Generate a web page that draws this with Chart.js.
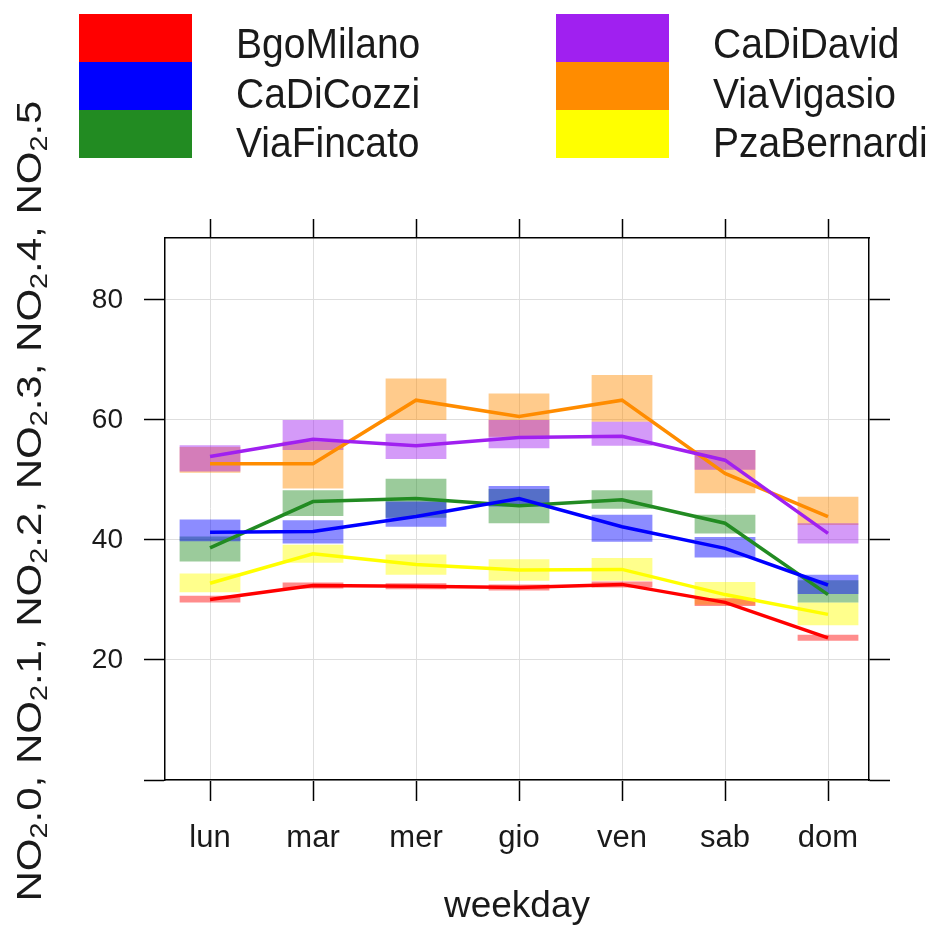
<!DOCTYPE html>
<html>
<head>
<meta charset="utf-8">
<title>NO2 per giorno della settimana</title>
<script src="https://cdn.jsdelivr.net/npm/chart.js@4.4.1/dist/chart.umd.min.js"></script>
<style>
  html, body { margin: 0; padding: 0; background: #fff; }
  #box { width: 946px; height: 929px; }
</style>
</head>
<body>
<div id="box"><canvas id="grafico-no2"></canvas></div>
<script>
const giorni = ['lun', 'mar', 'mer', 'gio', 'ven', 'sab', 'dom'];
const tickY = [0, 20, 40, 60, 80];

const stazioni = ['BgoMilano', 'CaDiCozzi', 'ViaFincato', 'CaDiDavid', 'ViaVigasio', 'PzaBernardi'];
const colori = ['#ff0000', '#0000ff', '#228b22', '#a020f0', '#ff8c00', '#ffff00'];

// media giornaliera e intervallo (inf/sup), lun..dom
const mediaBgoMilano = [30.1, 32.4, 32.3, 32.1, 32.6, 29.6, 23.7];
const infBgoMilano   = [29.6, 31.9, 31.8, 31.6, 32.1, 29.0, 23.2];
const supBgoMilano   = [30.7, 32.9, 32.8, 32.6, 33.1, 30.3, 24.2];

const mediaCaDiCozzi = [41.3, 41.4, 43.9, 46.9, 42.2, 38.6, 32.5];
const infCaDiCozzi   = [39.8, 39.4, 42.2, 45.6, 39.7, 37.1, 31.0];
const supCaDiCozzi   = [43.4, 43.3, 46.4, 49.0, 44.2, 40.5, 34.2];

const mediaViaFincato = [38.7, 46.4, 46.9, 45.7, 46.7, 42.8, 30.9];
const infViaFincato   = [36.4, 44.0, 43.7, 42.8, 45.2, 41.1, 29.6];
const supViaFincato   = [40.6, 48.3, 50.2, 48.5, 48.3, 44.2, 33.3];

const mediaCaDiDavid = [53.9, 56.8, 55.7, 57.1, 57.3, 53.3, 41.1];
const infCaDiDavid   = [51.4, 55.0, 53.5, 55.3, 55.7, 51.7, 39.4];
const supCaDiDavid   = [55.8, 60.0, 57.7, 60.0, 59.7, 55.0, 42.8];

const mediaViaVigasio = [52.7, 52.7, 63.3, 60.6, 63.3, 51.1, 43.9];
const infViaVigasio   = [51.2, 48.6, 60.0, 57.2, 59.7, 47.8, 42.5];
const supViaVigasio   = [55.5, 56.4, 66.9, 64.4, 67.5, 55.0, 47.2];

const mediaPzaBernardi = [32.8, 37.7, 35.9, 35.0, 35.1, 30.9, 27.6];
const infPzaBernardi   = [31.3, 36.2, 34.2, 33.2, 33.2, 29.2, 25.8];
const supPzaBernardi   = [34.4, 39.2, 37.6, 36.8, 37.0, 33.0, 29.6];

const medie = [mediaBgoMilano, mediaCaDiCozzi, mediaViaFincato, mediaCaDiDavid, mediaViaVigasio, mediaPzaBernardi];
const inferiori = [infBgoMilano, infCaDiCozzi, infViaFincato, infCaDiDavid, infViaVigasio, infPzaBernardi];
const superiori = [supBgoMilano, supCaDiCozzi, supViaFincato, supCaDiDavid, supViaVigasio, supPzaBernardi];

const font = '"Liberation Sans", Arial, sans-serif';

function trasparente(hex, a) {
  const n = parseInt(hex.slice(1), 16);
  return `rgba(${n >> 16}, ${(n >> 8) & 255}, ${n & 255}, ${a})`;
}

const datasets = [];
stazioni.forEach((nome, s) => {
  // rettangolo dell'intervallo
  datasets.push({
    type: 'bar',
    label: nome + ' int',
    data: giorni.map((g, i) => ({ x: i, y: [inferiori[s][i], superiori[s][i]] })),
    backgroundColor: trasparente(colori[s], 0.45),
    borderWidth: 0,
    grouped: false,
    categoryPercentage: 1,
    barPercentage: 0.59,
    order: 2
  });
  // linea della media
  datasets.push({
    type: 'line',
    label: nome,
    data: giorni.map((g, i) => ({ x: i, y: medie[s][i] })),
    borderColor: colori[s],
    borderWidth: 3.5,
    pointRadius: 0,
    tension: 0,
    fill: false,
    order: 1
  });
});

const tickGiorni = s => { s.ticks = giorni.map((g, i) => ({ value: i })); };
const tickValori = s => { s.ticks = tickY.map(v => ({ value: v })); };

// titolo asse y con i pedici
const titoloY = {
  id: 'titoloY',
  afterDraw(chart) {
    const ctx = chart.ctx;
    const pezzi = [];
    for (let k = 0; k <= 5; k++) {
      pezzi.push(['NO', false], ['2', true], ['.' + k, false]);
      if (k < 5) pezzi.push([', ', false]);
    }
    const fN = '35px ' + font, fS = '24px ' + font;
    let w = 0;
    pezzi.forEach(p => { ctx.font = p[1] ? fS : fN; w += ctx.measureText(p[0]).width; });
    ctx.save();
    ctx.translate(41, 501);
    ctx.rotate(-Math.PI / 2);
    ctx.scale(1.2, 1);
    ctx.fillStyle = '#1a1a1a';
    ctx.textBaseline = 'alphabetic';
    let x = -w / 2;
    pezzi.forEach(p => {
      ctx.font = p[1] ? fS : fN;
      ctx.fillText(p[0], x, p[1] ? 6 : 0);
      x += ctx.measureText(p[0]).width;
    });
    ctx.restore();
  }
};

// legenda su due colonne
const legenda = {
  id: 'legenda',
  afterDraw(chart) {
    const ctx = chart.ctx;
    ctx.save();
    stazioni.forEach((nome, i) => {
      const col = Math.floor(i / 3), riga = i % 3;
      const bx = col ? 556 : 79;
      ctx.fillStyle = colori[i];
      ctx.fillRect(bx, 14 + riga * 48, 113, 48);
      ctx.save();
      ctx.translate(bx + 157, 58 + riga * 49.5);
      ctx.scale(1, 1.1);
      ctx.fillStyle = '#1a1a1a';
      ctx.font = '39px ' + font;
      ctx.textBaseline = 'alphabetic';
      ctx.fillText(nome, 0, 0);
      ctx.restore();
    });
    ctx.restore();
  }
};

const bordo = { color: '#000', width: 1.5 };
const griglia = { color: '#dedede', lineWidth: 1, tickColor: '#000', tickWidth: 1.5, tickLength: 21, offset: false };

new Chart(document.getElementById('grafico-no2'), {
  type: 'line',
  data: { datasets },
  options: {
    responsive: true,
    maintainAspectRatio: false,
    animation: false,
    devicePixelRatio: 1,
    layout: { padding: 0 },
    plugins: { legend: { display: false }, tooltip: { enabled: false } },
    scales: {
      x: {
        type: 'linear', position: 'bottom', min: -0.437, max: 6.398, offset: false,
        afterBuildTicks: tickGiorni,
        ticks: { callback: v => giorni[v], font: { size: 31, family: font }, color: '#1a1a1a', padding: 19, autoSkip: false, maxRotation: 0 },
        grid: griglia,
        border: bordo,
        title: { display: true, text: 'weekday', font: { size: 37, family: font }, color: '#1a1a1a', padding: 0 },
        afterFit: s => { s.height = 149; }
      },
      y: {
        type: 'linear', position: 'left', min: 0, max: 90.33,
        afterBuildTicks: tickValori,
        ticks: { callback: v => v === 0 ? '' : v, font: { size: 28, family: font }, color: '#1a1a1a', padding: 21 },
        grid: griglia,
        border: bordo,
        afterFit: s => { s.width = 165; }
      },
      x2: {
        type: 'linear', position: 'top', min: -0.437, max: 6.398, offset: false,
        afterBuildTicks: tickGiorni,
        ticks: { display: false },
        grid: { drawOnChartArea: false, offset: false, tickColor: '#000', tickWidth: 1.5, tickLength: 19 },
        border: bordo,
        afterFit: s => { s.height = 238; }
      },
      y2: {
        type: 'linear', position: 'right', min: 0, max: 90.33,
        afterBuildTicks: tickValori,
        ticks: { display: false },
        grid: { drawOnChartArea: false, tickColor: '#000', tickWidth: 1.5, tickLength: 21 },
        border: bordo,
        afterFit: s => { s.width = 77; }
      }
    }
  },
  plugins: [titoloY, legenda]
});
</script>
</body>
</html>
